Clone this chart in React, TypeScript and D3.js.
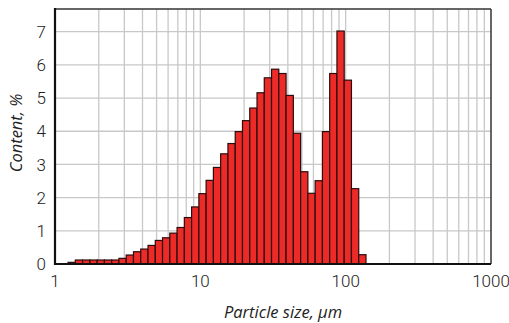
import * as d3 from 'd3'

// bin edges of the size classes, µm (20 classes per decade)
const binEdges = [
  1.23, 1.38, 1.549, 1.738, 1.95, 2.188, 2.455, 2.754, 3.09, 3.467,
  3.89, 4.365, 4.898, 5.495, 6.166, 6.918, 7.762, 8.71, 9.772, 10.96,
  12.3, 13.8, 15.49, 17.38, 19.5, 21.88, 24.55, 27.54, 30.9, 34.67,
  38.9, 43.65, 48.98, 54.95, 61.66, 69.18, 77.62, 87.1, 97.72, 109.6,
  123.0, 138.0
]

// content per class, %
const content = [
  0.05, 0.12, 0.12, 0.12, 0.12, 0.12, 0.12, 0.17, 0.27, 0.37,
  0.45, 0.56, 0.71, 0.79, 0.93, 1.1, 1.4, 1.72, 2.12, 2.52,
  2.91, 3.32, 3.63, 3.99, 4.32, 4.7, 5.16, 5.61, 5.87, 5.74,
  5.08, 3.94, 2.78, 2.13, 2.51, 3.99, 5.74, 7.02, 5.54, 2.27,
  0.28
]

const xTickLabels = [1, 10, 100, 1000]
const yTickLabels = [0, 1, 2, 3, 4, 5, 6, 7]

export default function App() {
  const width = 509
  const height = 323
  const plot = { left: 55, right: 491, top: 9, bottom: 264 }

  const x = d3.scaleLog().domain([1, 1000]).range([plot.left, plot.right])
  const y = d3.scaleLinear().domain([0, 7]).range([plot.bottom, 31.7])

  // minor log grid (2..9 in each decade), frame covers 1 and 1000
  const vGrid = x.ticks().filter(t => t > 1 && t < 1000)
  const hGrid = yTickLabels.filter(t => t > 0)

  const bars = content.map((v, i) => ({ x0: binEdges[i], x1: binEdges[i + 1], v }))

  const tickFont = { fontFamily: 'Roboto, sans-serif', fontWeight: 300, fontSize: 17, fill: '#222' }
  const titleFont = { fontFamily: "'Open Sans', sans-serif", fontStyle: 'italic', fontSize: 16.5, fill: '#222' }

  return (
    <div style={{ position: 'absolute', left: 0, top: 0 }}>
      <svg width={width} height={height} style={{ display: 'block', background: '#fff' }}>
        {/* grid */}
        <g stroke="#c8c8c8" strokeWidth={1.3}>
          {vGrid.map(t => (
            <line key={'v' + t} x1={x(t)} x2={x(t)} y1={plot.top} y2={plot.bottom} />
          ))}
          {hGrid.map(t => (
            <line key={'h' + t} x1={plot.left} x2={plot.right} y1={y(t)} y2={y(t)} />
          ))}
        </g>

        {/* bars */}
        <g fill="#ec2a27" stroke="#2a0c0c" strokeWidth={1.2}>
          {bars.map((b, i) => (
            <rect
              key={i}
              x={x(b.x0)}
              y={y(b.v)}
              width={x(b.x1) - x(b.x0)}
              height={y(0) - y(b.v)}
            />
          ))}
        </g>

        {/* frame */}
        <line x1={plot.left} x2={plot.right} y1={plot.top} y2={plot.top} stroke="#333" strokeWidth={1.5} />
        <line x1={plot.right} x2={plot.right} y1={plot.top} y2={plot.bottom} stroke="#333" strokeWidth={1.5} />
        <line x1={plot.left} x2={plot.right} y1={plot.bottom} y2={plot.bottom} stroke="#111" strokeWidth={2} />
        <line x1={plot.left} x2={plot.left} y1={plot.top - 1} y2={plot.bottom + 1} stroke="#111" strokeWidth={2.2} />

        {/* y tick labels */}
        {yTickLabels.map(t => (
          <text key={'yl' + t} x={46} y={y(t)} dy="0.36em" textAnchor="end" {...tickFont}>
            {t}
          </text>
        ))}

        {/* x tick labels */}
        {xTickLabels.map(t => (
          <text key={'xl' + t} x={x(t)} y={287} textAnchor="middle" {...tickFont}>
            {t}
          </text>
        ))}

        {/* axis titles */}
        <text x={283} y={318} textAnchor="middle" {...titleFont}>
          Particle size, µm
        </text>
        <text transform="translate(22,133) rotate(-90)" textAnchor="middle" {...titleFont}>
          Content, %
        </text>
      </svg>
    </div>
  )
}
